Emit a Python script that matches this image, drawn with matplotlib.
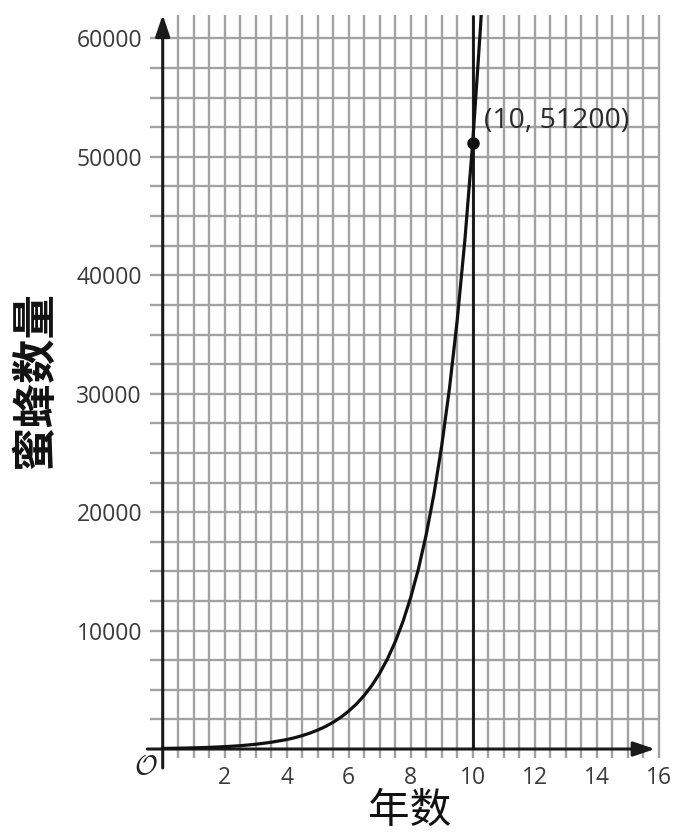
import matplotlib.pyplot as plt

# values
years = [0, 0.5, 1, 1.5, 2, 2.5, 3, 3.5, 4, 4.25, 4.5, 4.75, 5, 5.25, 5.5,
         5.75, 6, 6.25, 6.5, 6.75, 7, 7.25, 7.5, 7.75, 8, 8.25, 8.5, 8.75,
         9, 9.25, 9.5, 9.75, 10, 10.25, 10.5]
bees = [50, 70, 100, 140, 200, 280, 400, 570, 800, 950, 1130, 1345, 1600,
        1900, 2260, 2690, 3200, 3805, 4525, 5380, 6400, 7610, 9050, 10760,
        12800, 15220, 18100, 21530, 25600, 30440, 36200, 43050, 51200,
        60890, 72400]
point = (10, 51200)
point_label = "(10, 51200)"
x_ticks = [2, 4, 6, 8, 10, 12, 14, 16]
y_ticks = [10000, 20000, 30000, 40000, 50000, 60000]
x_grid = [i * 0.5 for i in range(1, 33)]
y_grid = [i * 2500 for i in range(1, 25)]

plt.rcParams['font.family'] = ['Open Sans', 'Noto Sans CJK SC', 'DejaVu Sans']

fig = plt.figure(figsize=(6.74, 8.34), dpi=100)
ax = fig.add_axes([0.2138, 0.0911, 0.7773, 0.8912])
ax.set_xlim(-0.6, 16.3)
ax.set_ylim(-760, 62000)
for s in ax.spines.values():
    s.set_visible(False)

grid_color = '#a2a2a2'
ax.vlines(x_grid, -760, 62000, color=grid_color, lw=1.7, zorder=1)
ax.hlines(y_grid, -0.4, 16, color=grid_color, lw=1.7, zorder=1)

# axes with arrows
arrow = dict(arrowstyle='-|>,head_length=0.65,head_width=0.22',
             color='#1a1a1a', lw=2.2, shrinkA=0, shrinkB=0, mutation_scale=20)
ax.annotate('', xy=(15.88, 0), xytext=(-0.5, 0), arrowprops=arrow,
            zorder=3, annotation_clip=False)
ax.annotate('', xy=(0, 62000), xytext=(0, -1600), arrowprops=arrow,
            zorder=3, annotation_clip=False)

ax.plot(years, bees, color='#111111', lw=2.3, zorder=4)
ax.vlines(10, 0, 62000, color='#111111', lw=2.0, zorder=4)
ax.plot(*point, 'o', color='#111111', ms=8, zorder=5)
ax.text(10.35, 53000, point_label, fontsize=20.5, color='#2b2b2b',
        va='center', ha='left', zorder=6)

ax.set_xticks(x_ticks)
ax.set_yticks(y_ticks)
ax.set_xticklabels([str(t) for t in x_ticks])
ax.set_yticklabels([str(t) for t in y_ticks])
ax.tick_params(length=0, labelsize=16.5, colors='#3a3a3a')
ax.tick_params(axis='x', pad=6)
ax.tick_params(axis='y', pad=1.5)

ax.text(-0.55, -1500, r'$\mathcal{O}$', fontsize=20, color='#222222',
        ha='center', va='center', math_fontfamily='cm')

fig.text(410 / 674, 1 - 811 / 834, '年数', fontsize=30, color='#111111',
         ha='center', va='center', family=['Noto Sans CJK SC'])
fig.text(35 / 674, 1 - 380 / 834, '蜜蜂数量', fontsize=32, color='#111111',
         ha='center', va='center', rotation=90, fontweight='bold',
         family=['Noto Sans CJK SC'])

fig.savefig('out.png', dpi=100)
